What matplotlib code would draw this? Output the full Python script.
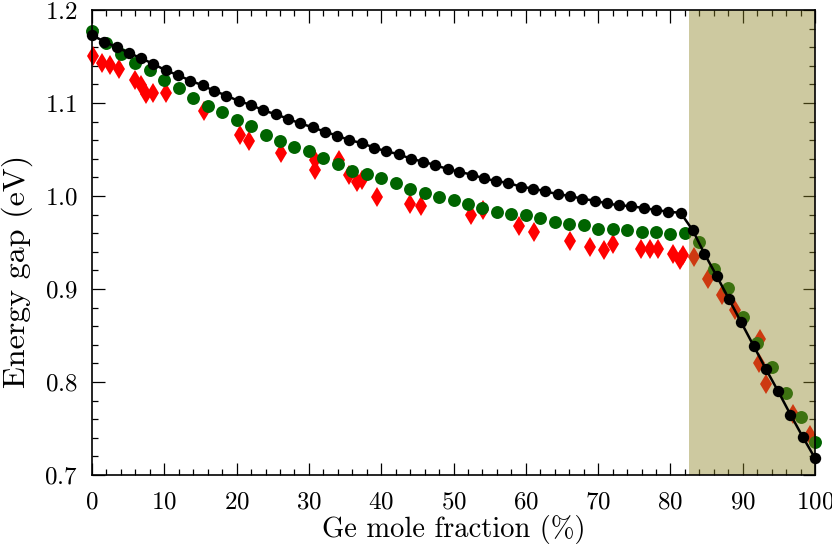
import matplotlib
matplotlib.use("Agg")
import matplotlib.pyplot as plt
from matplotlib.ticker import MultipleLocator
from matplotlib.transforms import ScaledTranslation

plt.rcParams["font.family"] = "serif"
plt.rcParams["font.serif"] = ["cmr10", "DejaVu Serif"]
plt.rcParams["axes.formatter.use_mathtext"] = True
plt.rcParams["mathtext.fontset"] = "cm"

# red diamonds (scattered set)
red_x = [0.2, 1.4, 2.5, 3.7, 5.9, 6.8, 7.4, 8.5, 10.2, 15.5, 20.5, 21.7,
         26.1, 30.8, 30.8, 34.1, 35.5, 36.6, 37.3, 39.4, 44.0, 45.5, 52.4,
         54.1, 59.0, 61.1, 66.1, 68.9, 70.8, 72.0, 75.9, 77.2, 78.3, 80.4,
         81.3, 81.8, 83.3, 85.2, 87.2, 88.9, 92.4, 92.3, 93.2, 97.0, 99.3]
red_y = [1.151, 1.143, 1.141, 1.137, 1.125, 1.119, 1.110, 1.111, 1.111,
         1.091, 1.066, 1.059, 1.046, 1.039, 1.028, 1.039, 1.023, 1.015,
         1.017, 0.999, 0.991, 0.989, 0.980, 0.985, 0.968, 0.961, 0.952,
         0.945, 0.942, 0.948, 0.943, 0.943, 0.943, 0.938, 0.931, 0.937,
         0.934, 0.911, 0.894, 0.877, 0.846, 0.820, 0.798, 0.766, 0.743]

# green circles
green_x = [0, 2, 4, 6, 8, 10, 12, 14, 16, 18, 20, 22, 24, 26, 28, 30, 32,
           34, 36, 38, 40, 42, 44, 46, 48, 50, 52, 54, 56, 58, 60, 62, 64,
           66, 68, 70, 72, 74, 76, 78, 80, 82, 84, 86, 88, 90, 92, 94, 96,
           98, 100]
green_y = [1.177, 1.164, 1.153, 1.143, 1.135, 1.125, 1.116, 1.105, 1.097,
           1.090, 1.082, 1.075, 1.066, 1.059, 1.053, 1.048, 1.041, 1.034,
           1.027, 1.024, 1.019, 1.014, 1.007, 1.003, 0.999, 0.996, 0.991,
           0.987, 0.983, 0.981, 0.980, 0.976, 0.972, 0.970, 0.969, 0.965,
           0.964, 0.963, 0.961, 0.961, 0.959, 0.960, 0.951, 0.922, 0.901,
           0.870, 0.842, 0.816, 0.788, 0.762, 0.736]

# black circles + line
black_x = [0, 1.7, 3.4, 5.1, 6.8, 8.5, 10.2, 11.9, 13.6, 15.3, 16.9, 18.6,
           20.3, 22.0, 23.7, 25.4, 27.1, 28.8, 30.5, 32.2, 33.9, 35.6, 37.3,
           39.0, 40.7, 42.4, 44.1, 45.8, 47.5, 49.2, 50.8, 52.5, 54.2, 55.9,
           57.6, 59.3, 61.0, 62.7, 64.4, 66.1, 67.8, 69.5, 71.2, 72.9, 74.6,
           76.3, 78.0, 79.7, 81.4, 83.1, 84.7, 86.4, 88.1, 89.8, 91.5, 93.2,
           94.9, 96.6, 98.3, 100]
black_y = [1.173, 1.166, 1.160, 1.154, 1.148, 1.142, 1.135, 1.130, 1.124,
           1.119, 1.113, 1.108, 1.102, 1.098, 1.092, 1.088, 1.083, 1.078,
           1.074, 1.069, 1.065, 1.060, 1.057, 1.052, 1.048, 1.045, 1.040,
           1.037, 1.033, 1.029, 1.026, 1.023, 1.019, 1.016, 1.014, 1.010,
           1.008, 1.005, 1.002, 1.000, 0.997, 0.995, 0.992, 0.990, 0.989,
           0.987, 0.985, 0.983, 0.982, 0.963, 0.938, 0.914, 0.889, 0.864,
           0.839, 0.814, 0.790, 0.765, 0.741, 0.718]

span_start = 82.6

fig = plt.figure(figsize=(8.32, 5.56), dpi=100)
ax = fig.add_axes([0.1106, 0.1457, 0.8690, 0.8363])

ax.plot(red_x, red_y, "d", color="#ff0000", ms=10, mew=0, zorder=2,
        clip_on=False)
ax.plot(green_x, green_y, "o", color="#006400", ms=9.3, mew=0, zorder=3,
        clip_on=False)
ax.axvspan(span_start, 100, color=(141/255, 132/255, 39/255), alpha=0.44,
           lw=0, zorder=4)
ax.plot(black_x, black_y, "-o", color="black", lw=1.8, ms=8.2, mew=0,
        zorder=5, clip_on=False)

ax.set_xlim(0, 100)
ax.set_ylim(0.7, 1.2)
ax.xaxis.set_major_locator(MultipleLocator(10))
ax.xaxis.set_minor_locator(MultipleLocator(2))
ax.yaxis.set_major_locator(MultipleLocator(0.1))
ax.yaxis.set_minor_locator(MultipleLocator(0.02))
ax.tick_params(which="both", direction="in", top=True, right=True,
               labelsize=18, width=0.9)
ax.tick_params(which="major", length=9, pad=10.5)
ax.tick_params(axis="x", which="major", pad=12)
ax.tick_params(which="minor", length=4.5)
for s in ax.spines.values():
    s.set_linewidth(1.2)
    s.set_zorder(6)

# nudge the "100" label a little so it stays inside the figure
last = ax.xaxis.get_major_ticks()[-1].label1
last.set_transform(last.get_transform()
                   + ScaledTranslation(-5 / 72, 0, fig.dpi_scale_trans))

ax.set_xlabel("Ge mole fraction (%)", fontsize=20.5, labelpad=1)
ax.set_ylabel("Energy gap (eV)", fontsize=23)
ax.yaxis.set_label_coords(-0.082, 0.437)

plt.savefig("out.png", dpi=100)
plt.close()
